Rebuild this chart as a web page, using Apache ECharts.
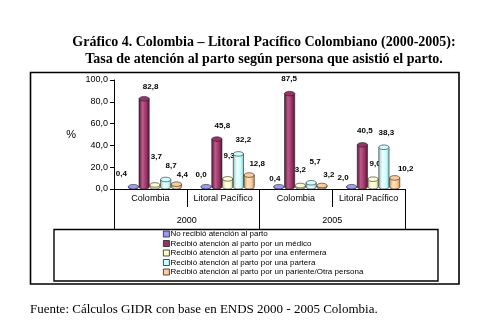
<!DOCTYPE html>
<html>
<head>
<meta charset="utf-8">
<script src="https://cdn.jsdelivr.net/npm/echarts@6/dist/echarts.min.js"></script>
<style>
  html, body { margin: 0; padding: 0; background: #fff; }
  #chart { width: 503px; height: 323px; }
</style>
</head>
<body>
<div id="chart"></div>
<script>
// categorias (fila 1 y fila 2 del eje)
var zonas = ['Colombia', 'Litoral Pacífico', 'Colombia', 'Litoral Pacífico'];
var anios = ['2000', '2005'];
var nombres = [
  'No recibió atención al parto',
  'Recibió atención al parto por un médico',
  'Recibió atención al parto por una enfermera',
  'Recibió atención al parto por una partera',
  'Recibió atención al parto por un pariente/Otra persona'
];
// valores por serie (Col 2000, LP 2000, Col 2005, LP 2005)
var noAtencion = [0.4, 0.0, 0.4, 2.0];
var medico = [82.8, 45.8, 87.5, 40.5];
var enfermera = [3.7, 9.3, 3.2, 9.0];
var partera = [8.7, 32.2, 5.7, 38.3];
var pariente = [4.4, 12.8, 3.2, 10.2];
var valores = [noAtencion, medico, enfermera, partera, pariente];

// estilos de los cilindros: [claro, medio, oscuro]
var colores = [
  ['#c8c8ff', '#9999ff', '#3a3a8c'],
  ['#c05a8c', '#993366', '#4e1530'],
  ['#ffffee', '#ffffcc', '#c9c98e'],
  ['#f0ffff', '#ccffff', '#86c4cc'],
  ['#ffe2c4', '#ffcc99', '#c98f58']
];
// desplazamiento de las etiquetas (px) respecto a la parte superior del cilindro
var etiquetaDesp = [
  [[-12, -15], [-5, -14], [-4, -10], [-8.5, -9.5]],
  [[6.5, -11.5], [5.5, -13], [-0.5, -15], [2.5, -14]],
  [[1.5, -28], [1.5, -23], [0, -16], [2, -15]],
  [[5.5, -14], [5, -14], [4, -21], [2.5, -14.6]],
  [[6, -9], [8, -11], [7, -11], [11, -9]]
];

function coma(v) {
  return v.toFixed(1).replace('.', ',');
}

function cilindro(si) {
  return function (params, api) {
    var cat = api.value(0), val = api.value(1);
    var top = api.coord([cat, val]);
    var base = api.coord([cat, 0]);
    var band = api.size([1, 0])[0];
    var step = band * 0.148;
    var cx = top[0] + band * 0.062 + (si - 2) * step;
    var w = step * 0.95;
    var ry = 2.3;
    var c = colores[si];
    var x0 = cx - w / 2;
    var grad = new echarts.graphic.LinearGradient(0, 0, 1, 0, [
      { offset: 0, color: c[2] },
      { offset: 0.35, color: c[0] },
      { offset: 0.7, color: c[1] },
      { offset: 1, color: c[2] }
    ]);
    var d = etiquetaDesp[si][params.dataIndex];
    var y1 = base[1] - ry;
    var yTop = Math.min(top[1], y1);
    var body = 'M' + x0 + ' ' + yTop + ' L' + x0 + ' ' + y1 +
      ' A' + (w / 2) + ' ' + ry + ' 0 0 0 ' + (x0 + w) + ' ' + y1 +
      ' L' + (x0 + w) + ' ' + yTop + ' Z';
    return {
      type: 'group',
      children: [
        { type: 'path', shape: { pathData: body }, style: { fill: grad, stroke: '#222', lineWidth: 0.6 } },
        { type: 'ellipse', shape: { cx: cx, cy: yTop, rx: w / 2, ry: ry },
          style: { fill: c[1], stroke: '#222', lineWidth: 0.6 } },
        { type: 'text', style: {
            text: coma(val), x: cx + d[0], y: top[1] + d[1],
            align: 'center', verticalAlign: 'middle',
            font: 'bold 8px "Liberation Sans", Arial', fill: '#000'
          } }
      ]
    };
  };
}

var chart = echarts.init(document.getElementById('chart'));

var series = valores.map(function (vals, si) {
  return {
    name: nombres[si],
    type: 'custom',
    renderItem: cilindro(si),
    itemStyle: { color: colores[si][1] },
    encode: { x: 0, y: 1 },
    data: vals.map(function (v, i) { return [i, v]; }),
    z: 5
  };
});

var options = {
  animation: false,
  backgroundColor: '#fff',
  textStyle: { fontFamily: '"Liberation Sans", Arial' },
  title: {
    text: 'Gráfico 4. Colombia – Litoral Pacífico Colombiano (2000-2005):\nTasa de atención al parto según persona que asistió el parto.',
    left: 259,
    top: 29,
    textAlign: 'center',
    textStyle: {
      fontFamily: '"Liberation Serif", "Times New Roman", serif',
      fontSize: 14, fontWeight: 'bold', color: '#000', lineHeight: 17, align: 'center'
    }
  },
  legend: {
    orient: 'vertical',
    left: 163,
    top: 229,
    itemWidth: 6,
    itemHeight: 6,
    itemGap: 1.5,
    icon: 'rect',
    padding: [1, 0, 0, 0],
    itemStyle: { borderColor: '#222', borderWidth: 0.8 },
    textStyle: { fontSize: 8, lineHeight: 8, color: '#000', padding: [0, 0, 0, -4], fontFamily: '"Liberation Sans", Arial' },
    data: nombres
  },
  grid: { left: 114, right: 98, top: 80, bottom: 134, containLabel: false },
  xAxis: [
    {
      type: 'category',
      data: zonas,
      position: 'bottom',
      axisLine: { lineStyle: { color: '#000', width: 1 } },
      axisTick: { show: true, length: 18, interval: 0, lineStyle: { color: '#000' } },
      axisLabel: { margin: 5, fontSize: 9, color: '#000', interval: 0 }
    },
    {
      type: 'category',
      data: anios,
      position: 'bottom',
      gridIndex: 0,
      axisLine: { show: false },
      axisTick: { show: true, length: 40, interval: 0, lineStyle: { color: '#000' } },
      axisLabel: { margin: 27, fontSize: 9, color: '#000', interval: 0 }
    }
  ],
  yAxis: {
    type: 'value',
    min: 0,
    max: 100,
    interval: 20,
    name: '%',
    nameLocation: 'middle',
    nameRotate: 0,
    nameGap: 38,
    nameTextStyle: { fontSize: 11, color: '#000' },
    splitLine: { show: false },
    axisLine: { show: true, lineStyle: { color: '#000' } },
    axisTick: { show: true, length: 4, lineStyle: { color: '#000' } },
    axisLabel: { fontSize: 9, color: '#000', margin: 6, formatter: function (v) { return coma(v); } }
  },
  graphic: [
    { type: 'rect', shape: { x: 30.5, y: 72.5, width: 428.5, height: 211.5 },
      style: { fill: null, stroke: '#000', lineWidth: 1.6 }, z: 0 },
    { type: 'rect', shape: { x: 54, y: 229.5, width: 384, height: 51.5 },
      style: { fill: null, stroke: '#000', lineWidth: 1.4 }, z: 0 },
    { type: 'text', left: 30, top: 303,
      style: { text: 'Fuente: Cálculos GIDR con base en ENDS 2000 - 2005 Colombia.',
        font: '13px "Liberation Serif", "Times New Roman", serif', fill: '#000' } }
  ],
  series: series
};

chart.setOption(options);
</script>
</body>
</html>
